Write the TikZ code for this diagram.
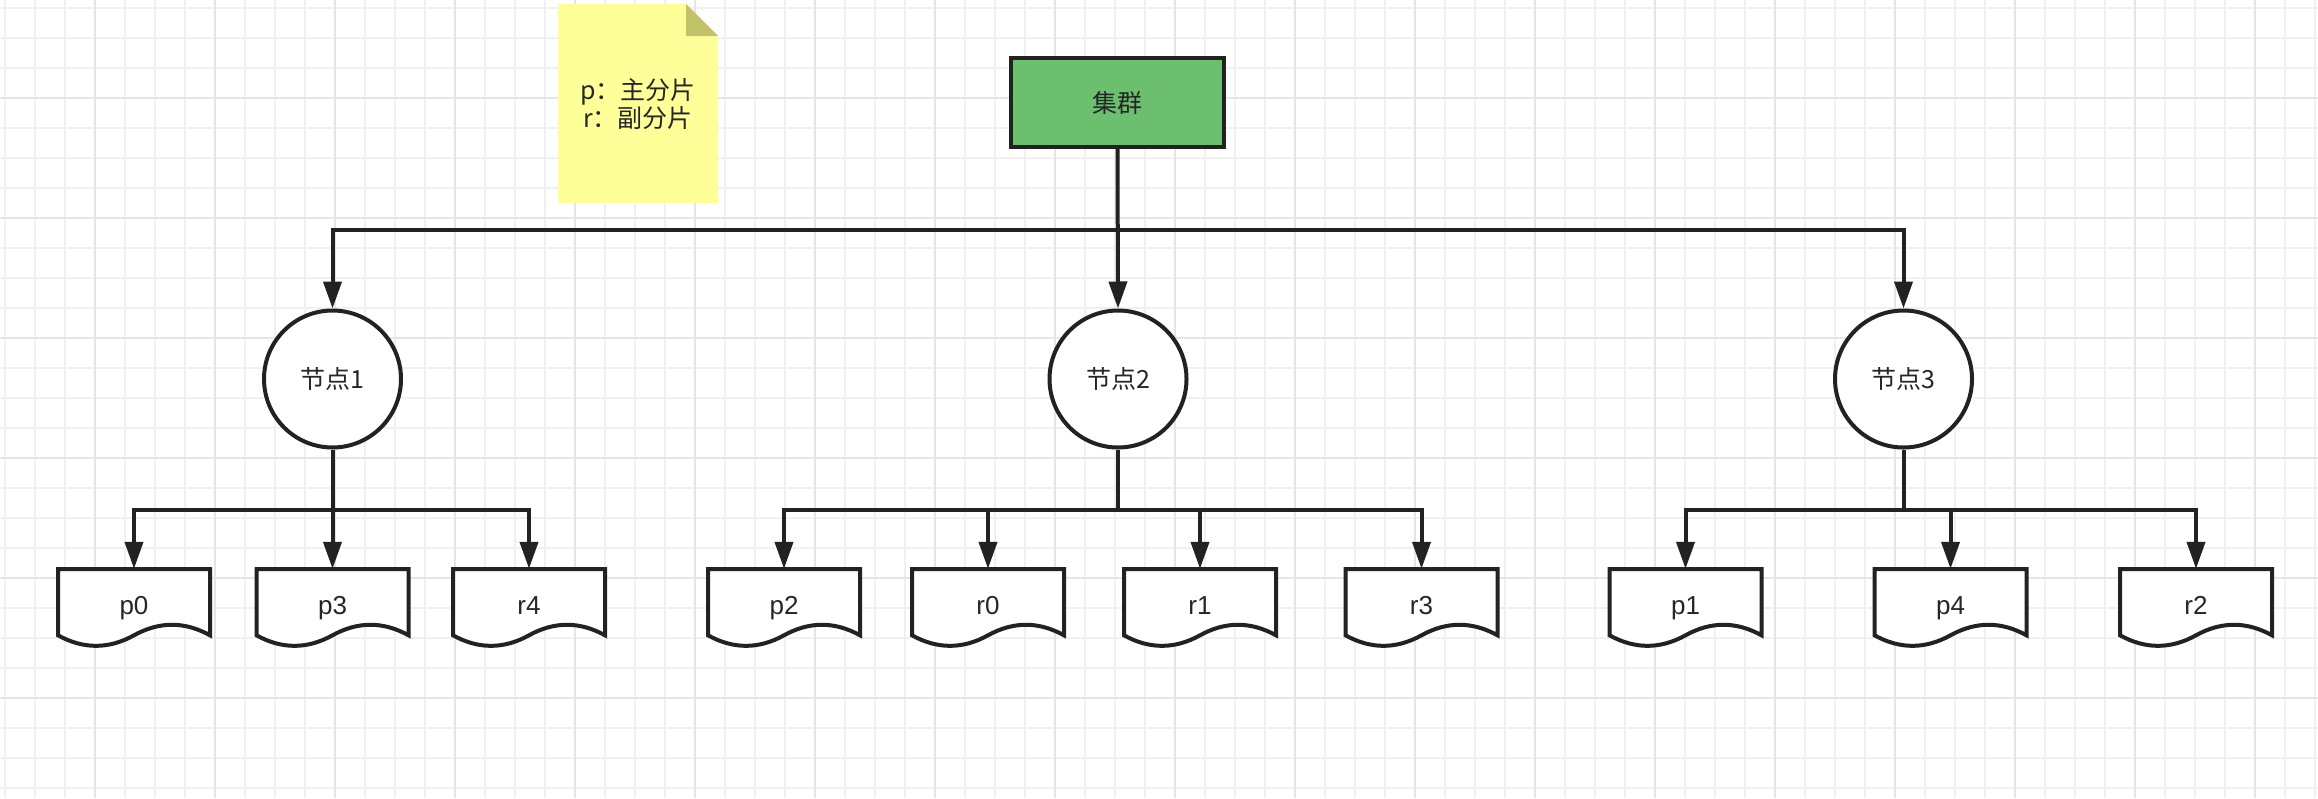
\documentclass[tikz,border=0pt]{standalone}
\usepackage{fontspec}
\setmainfont{Liberation Sans}
\newfontfamily\cjk{Noto Sans CJK SC}
\usetikzlibrary{arrows.meta,calc}
\definecolor{linec}{HTML}{222222}
\definecolor{textc}{HTML}{262626}
\definecolor{clgreen}{HTML}{6CBF6E}
\definecolor{noteyel}{HTML}{FFFF99}
\definecolor{notefold}{HTML}{C2C26B}
\definecolor{gridminor}{HTML}{F0F0F0}
\definecolor{gridmajor}{HTML}{E5E5E5}
\tikzset{
  conn/.style={draw=linec,line width=4pt,-{Triangle[length=27pt,width=18pt]}},
  plainconn/.style={draw=linec,line width=4pt},
  clusterbox/.style={rectangle,draw=linec,fill=clgreen,line width=4pt,minimum width=213pt,minimum height=89pt,inner sep=0pt,text=textc,font=\cjk\fontsize{25pt}{30pt}\selectfont},
  hostnode/.style={circle,draw=linec,fill=white,line width=4pt,minimum size=137pt,inner sep=0pt,text=textc,font=\cjk\fontsize{25pt}{30pt}\selectfont},
  docline/.style={draw=linec,fill=white,line width=4pt,line join=miter},
  doctext/.style={rectangle,minimum width=152pt,minimum height=78pt,inner sep=0pt,text height=18pt,text depth=5.3pt,text=textc,font=\fontsize{26pt}{30pt}\selectfont},
  notetext/.style={align=center,text=textc,font=\cjk\fontsize{25pt}{28pt}\selectfont,inner sep=0pt}
}
\newcommand\docshape[2]{%
  \filldraw[docline] (#1-76,#2) -- (#1+76,#2) -- (#1+76,#2+66.3)
    .. controls (#1+50.67,#2+52.26) and (#1+25.33,#2+52.26) .. (#1,#2+66.3)
    .. controls (#1-25.33,#2+80.34) and (#1-50.67,#2+80.34) .. (#1-76,#2+66.3) -- cycle;
}
\newcommand\docnode[3]{% name, x, text
  \docshape{#2}{569}
  \node[doctext] (#1) at (#2,608) {#3};
}
\begin{document}
\begin{tikzpicture}[x=1pt,y=-1pt]
\useasboundingbox (0,0) rectangle (2318,798);
\fill[white] (0,0) rectangle (2318,798);
% grid
\foreach \gx in {5,35,...,2318} \draw[gridminor,line width=1.6pt] (\gx,0) -- (\gx,798);
\foreach \gy in {8,38,...,798} \draw[gridminor,line width=1.6pt] (0,\gy) -- (2318,\gy);
\foreach \gx in {95,215,...,2318} \draw[gridmajor,line width=1.8pt] (\gx,0) -- (\gx,798);
\foreach \gy in {98,218,...,798} \draw[gridmajor,line width=1.8pt] (0,\gy) -- (2318,\gy);
% note
\fill[noteyel] (558,4) -- (686,4) -- (718,36) -- (718,203) -- (558,203) -- cycle;
\fill[notefold] (686,4) -- (718,36) -- (686,36) -- cycle;
\node[notetext] (note) at (638,104) {p：主分片\\r：副分片};
% cluster
\node[clusterbox] (c) at (1117.5,102.5) {集群};
% hosts
\node[hostnode] (n1) at (332.5,379) {节点1};
\node[hostnode] (n2) at (1118,379) {节点2};
\node[hostnode] (n3) at (1903.5,379) {节点3};
% documents
\docnode{p0}{134}{p0}
\docnode{p3}{332.5}{p3}
\docnode{r4}{529}{r4}
\docnode{p2}{784}{p2}
\docnode{r0}{988}{r0}
\docnode{r1}{1200}{r1}
\docnode{r3}{1421.5}{r3}
\docnode{p1}{1685.5}{p1}
\docnode{p4}{1950.5}{p4}
\docnode{r2}{2196}{r2}
% junctions
\coordinate (j0) at (1118,230);
\coordinate (j1) at (332.5,510);
\coordinate (j2) at (1118,510);
\coordinate (j3) at (1903.5,510);
% cluster to hosts
\draw[conn] (c.south) -- (n2.north);
\draw[conn] (j0) -| (n1.north);
\draw[conn] (j0) -| (n3.north);
% hosts to shards
\draw[conn] (n1.south) -- (p3.north);
\draw[conn] (j1) -| (p0.north);
\draw[conn] (j1) -| (r4.north);
\draw[plainconn] (n2.south) -- (j2);
\draw[conn] (j2) -| (p2.north);
\draw[conn] (j2) -| (r0.north);
\draw[conn] (j2) -| (r1.north);
\draw[conn] (j2) -| (r3.north);
\draw[plainconn] (n3.south) -- (j3);
\draw[conn] (j3) -| (p1.north);
\draw[conn] (j3) -| (p4.north);
\draw[conn] (j3) -| (r2.north);
\end{tikzpicture}
\end{document}
